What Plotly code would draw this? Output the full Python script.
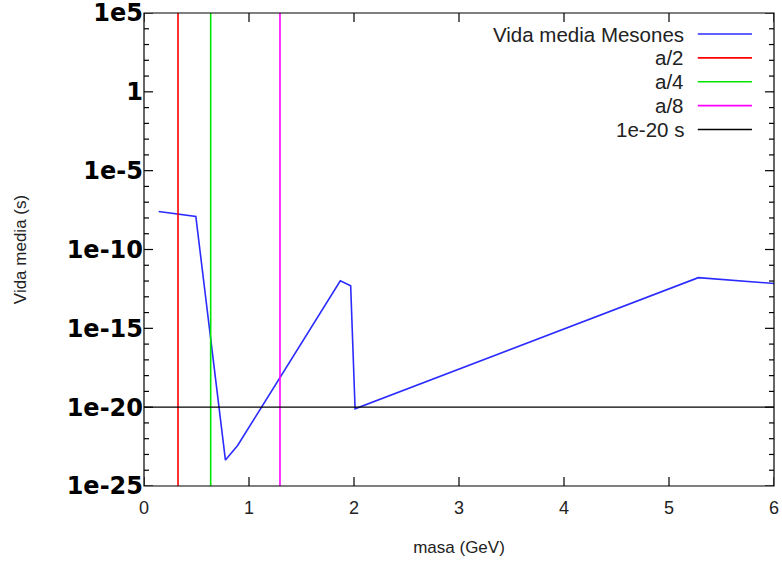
import plotly.graph_objects as go

# --- data ---
masa = [0.1396, 0.4937, 0.7755, 0.8917, 1.8696, 1.9683, 2.0103, 5.2793, 6.2745]
vida_media = [2.6e-8, 1.238e-8, 4.4e-24, 3.7e-23, 1.04e-12, 5.0e-13, 7.9e-21, 1.64e-12, 5.07e-13]
serie_nombre = "Vida media Mesones"

cortes_nombres = ["a/2", "a/4", "a/8"]
cortes_masa = [0.324, 0.635, 1.295]

ref_nombre = "1e-20 s"
ref_vida = 1e-20

x_range = [0, 6]
y_range_exp = [-25, 5]
x_tickvals = [0, 1, 2, 3, 4, 5, 6]
y_tickvals = [1e5, 1, 1e-5, 1e-10, 1e-15, 1e-20, 1e-25]
y_ticktext = ["1e5", "1", "1e-5", "1e-10", "1e-15", "1e-20", "1e-25"]
y_minor_vals = [10.0 ** k for k in range(-25, 6)]

# --- styles ---
col_serie = "#2b2bff"
cortes_colores = ["#ff0000", "#00e600", "#ff00ff"]
col_ref = "#000000"
frame_w = 1.2
major_len, minor_len = 9, 5

fig = go.Figure()

fig.add_trace(go.Scatter(x=masa, y=vida_media, mode="lines", name=serie_nombre,
                         line=dict(color=col_serie, width=1.6), showlegend=False))
ymin, ymax = 10.0 ** y_range_exp[0], 10.0 ** y_range_exp[1]
for nom, xm, c in zip(cortes_nombres, cortes_masa, cortes_colores):
    fig.add_trace(go.Scatter(x=[xm, xm], y=[ymin, ymax], mode="lines", name=nom,
                             line=dict(color=c, width=1.6), showlegend=False))
fig.add_trace(go.Scatter(x=x_range, y=[ref_vida, ref_vida], mode="lines", name=ref_nombre,
                         line=dict(color=col_ref, width=1.3), showlegend=False))

# --- gnuplot-style legend (text right-aligned, sample on the right) ---
leg_names = [serie_nombre] + cortes_nombres + [ref_nombre]
leg_cols = [col_serie] + cortes_colores + [col_ref]
leg_y0 = 0.9556
leg_dy = 0.0505
for i, (n, c) in enumerate(zip(leg_names, leg_cols)):
    yy = leg_y0 - i * leg_dy
    fig.add_annotation(x=0.861, y=yy, xref="paper", yref="paper", text=n,
                       showarrow=False, xanchor="right", yanchor="middle",
                       font=dict(family="Liberation Sans, Arial", size=20.5, color="#222"))
    fig.add_shape(type="line", xref="paper", yref="paper", x0=0.879, x1=0.965,
                  y0=yy, y1=yy, line=dict(color=c, width=1.6))

# --- gnuplot-style border with inward ticks on all four sides ---
tick_line = dict(color="black", width=frame_w)
fig.add_shape(type="rect", xref="paper", yref="paper", x0=0, x1=1, y0=0, y1=1,
              line=tick_line, fillcolor="rgba(0,0,0,0)")
for xv in x_tickvals:
    for anchor, sgn in ((0, 1), (1, -1)):
        fig.add_shape(type="line", xref="x", yref="paper", ysizemode="pixel", yanchor=anchor,
                      x0=xv, x1=xv, y0=0, y1=sgn * major_len, line=tick_line)
for yv in y_minor_vals:
    ln = major_len if yv in y_tickvals else minor_len
    for anchor, sgn in ((0, 1), (1, -1)):
        fig.add_shape(type="line", yref="y", xref="paper", xsizemode="pixel", xanchor=anchor,
                      y0=yv, y1=yv, x0=0, x1=sgn * ln, line=tick_line)

fig.update_xaxes(range=x_range, tickmode="array", tickvals=x_tickvals, ticks="",
                 showline=False, showgrid=False, zeroline=False, ticklabelstandoff=9,
                 tickfont=dict(family="Liberation Sans, Arial", size=18, color="#222"),
                 title=dict(text="masa (GeV)", standoff=24,
                            font=dict(family="Liberation Sans, Arial", size=17, color="#222")))
fig.update_yaxes(type="log", range=y_range_exp,
                 tickmode="array", tickvals=y_tickvals, ticktext=y_ticktext, ticks="",
                 showline=False, showgrid=False, zeroline=False, ticklabeloverflow="allow",
                 tickfont=dict(family="DejaVu Sans", size=24, color="black", weight="bold"),
                 title=dict(text="Vida media (s)", standoff=35,
                            font=dict(family="Liberation Sans, Arial", size=17, color="#222")))

fig.update_layout(width=782, height=563, plot_bgcolor="white", paper_bgcolor="white",
                  margin=dict(l=144, r=8, t=13, b=77, autoexpand=False), showlegend=False)

fig.write_html("out.html")
